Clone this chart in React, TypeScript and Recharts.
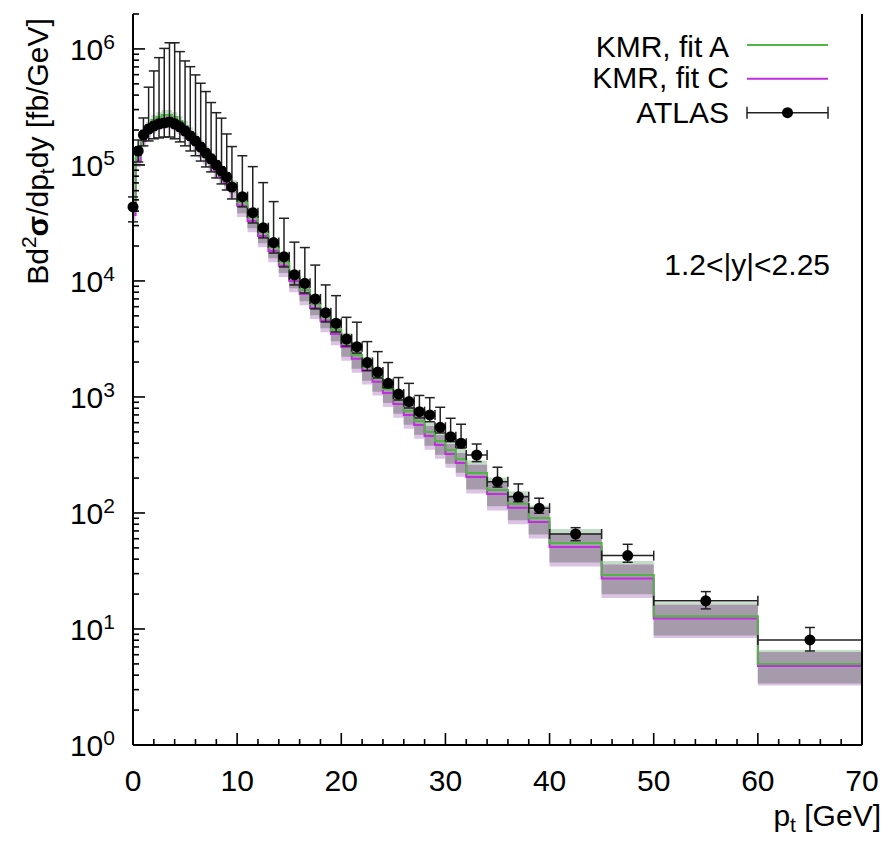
import React from "react";
import { Area, ComposedChart, ErrorBar, Line, Scatter, XAxis, YAxis } from "recharts";

const FONT = '"Liberation Sans", Arial, sans-serif';

// bin edges of the histogram steps (GeV)
const binEdges = [
  0, 0.25, 0.75, 1.25, 1.75, 2.25, 2.75, 3.25, 3.75, 4.25, 4.75, 5.25, 5.75, 6.25, 6.75, 7.25,
  7.75, 8.25, 8.75, 9.25, 10, 11, 12, 13, 14, 15, 16, 17, 18, 19, 20, 21, 22, 23, 24, 25, 26, 27,
  28, 29, 30, 31, 32, 34, 36, 38, 40, 45, 50, 60, 70,
];

// ATLAS points
const ptCenters = [
  0, 0.5, 1, 1.5, 2, 2.5, 3, 3.5, 4, 4.5, 5, 5.5, 6, 6.5, 7, 7.5, 8, 8.5, 9, 9.5, 10.5, 11.5,
  12.5, 13.5, 14.5, 15.5, 16.5, 17.5, 18.5, 19.5, 20.5, 21.5, 22.5, 23.5, 24.5, 25.5, 26.5, 27.5,
  28.5, 29.5, 30.5, 31.5, 33, 35, 37, 39, 42.5, 47.5, 55, 65,
];
const atlasValue = [
  4.35e4, 1.32e5, 1.82e5, 2.04e5, 2.17e5, 2.26e5, 2.3e5, 2.35e5, 2.26e5, 2.13e5, 1.96e5, 1.78e5,
  1.61e5, 1.43e5, 1.27e5, 1.13e5, 1.0e5, 8.88e4, 7.88e4, 6.46e4, 5.33e4, 3.88e4, 2.88e4, 2.14e4,
  1.62e4, 1.13e4, 9550, 7000, 5330, 4320, 3160, 2710, 1980, 1640, 1310, 1060, 912, 747, 700, 548,
  455, 399, 316, 186, 138, 110, 65.9, 42.9, 17.5, 8.04,
];
const atlasHigh = [
  5.3e4, 1.64e5, 2.54e5, 4.68e5, 6.46e5, 8.41e5, 1.01e6, 1.13e6, 1.13e6, 9.48e5, 7.88e5, 7.03e5,
  5.97e5, 5.06e5, 4.29e5, 3.45e5, 2.82e5, 2.53e5, 1.85e5, 1.44e5, 1.2e5, 9.67e4, 7.04e4, 4.83e4,
  3.47e4, 2.16e4, 1.94e4, 1.37e4, 9240, 7470, 4860, 4410, 3000, 2460, 1980, 1470, 1310, 1030,
  986, 815, 655, 582, 393, 248, 178, 134, 74.7, 53.7, 21.0, 10.3,
];
const atlasLow = [
  3.23e4, 1.06e5, 1.46e5, 1.61e5, 1.68e5, 1.71e5, 1.74e5, 1.74e5, 1.68e5, 1.58e5, 1.46e5, 1.32e5,
  1.2e5, 1.08e5, 9.61e4, 8.71e4, 7.73e4, 6.86e4, 6.08e4, 5.09e4, 4.35e4, 3.16e4, 2.35e4, 1.74e4,
  1.32e4, 9240, 7880, 5740, 4430, 3630, 2750, 2390, 1690, 1460, 1200, 942, 804, 659, 612, 489,
  412, 363, 277, 167, 125, 99.4, 57.7, 37.6, 14.9, 6.46,
];

// KMR, fit A
const fitA = [
  4.1e4, 1.2e5, 1.78e5, 2.17e5, 2.44e5, 2.59e5, 2.7e5, 2.7e5, 2.59e5, 2.39e5, 2.17e5, 1.92e5,
  1.71e5, 1.49e5, 1.32e5, 1.15e5, 1.0e5, 8.88e4, 7.73e4, 6.72e4, 4.8e4, 3.56e4, 2.64e4, 1.96e4,
  1.46e4, 1.08e4, 8360, 6340, 4900, 3780, 2920, 2300, 1820, 1460, 1170, 942, 757, 621, 499, 418,
  349, 292, 221, 158, 120, 90.6, 55.1, 29.2, 12.9, 4.99,
];
const fitAHigh = [
  4.43e4, 1.3e5, 1.92e5, 2.34e5, 2.68e5, 2.85e5, 2.97e5, 2.97e5, 2.85e5, 2.63e5, 2.39e5, 2.11e5,
  1.88e5, 1.64e5, 1.45e5, 1.27e5, 1.1e5, 9.77e4, 8.5e4, 7.39e4, 5.52e4, 4.09e4, 3.04e4, 2.25e4,
  1.68e4, 1.24e4, 9610, 7290, 5640, 4350, 3560, 2810, 2220, 1780, 1430, 1149, 924, 758, 609, 510,
  426, 356, 283, 202, 154, 116, 72.7, 38.5, 17.0, 6.59,
];
const fitALow = [
  3.61e4, 1.06e5, 1.57e5, 1.91e5, 2.07e5, 2.2e5, 2.3e5, 2.3e5, 2.2e5, 2.03e5, 1.84e5, 1.63e5,
  1.45e5, 1.27e5, 1.12e5, 9.78e4, 8.5e4, 7.55e4, 6.57e4, 5.71e4, 3.84e4, 2.85e4, 2.11e4, 1.57e4,
  1.17e4, 8640, 6690, 5070, 3920, 3020, 2220, 1750, 1380, 1110, 889, 716, 575, 472, 379, 318,
  265, 222, 159, 114, 86.4, 65.2, 37.5, 19.9, 8.77, 3.39,
];

// KMR, fit C
const fitC = [
  3.7e4, 1.09e5, 1.61e5, 1.96e5, 2.21e5, 2.34e5, 2.44e5, 2.44e5, 2.34e5, 2.16e5, 1.96e5, 1.74e5,
  1.55e5, 1.35e5, 1.19e5, 1.04e5, 9.05e4, 8.04e4, 7.0e4, 6.08e4, 4.44e4, 3.29e4, 2.44e4, 1.81e4,
  1.35e4, 9980, 7720, 5860, 4530, 3490, 2700, 2130, 1680, 1350, 1080, 870, 699, 574, 461, 386,
  322, 270, 204, 146, 111, 83.7, 50.9, 27.2, 12.3, 4.8,
];
const fitCHigh = [
  4.0e4, 1.18e5, 1.74e5, 2.12e5, 2.43e5, 2.57e5, 2.68e5, 2.68e5, 2.57e5, 2.38e5, 2.16e5, 1.91e5,
  1.71e5, 1.49e5, 1.31e5, 1.14e5, 9.96e4, 8.84e4, 7.7e4, 6.69e4, 5.11e4, 3.78e4, 2.81e4, 2.08e4,
  1.55e4, 1.15e4, 8880, 6740, 5210, 4010, 3290, 2600, 2050, 1650, 1320, 1061, 853, 700, 562, 471,
  393, 329, 261, 187, 142, 107, 67.2, 35.9, 16.2, 6.34,
];
const fitCLow = [
  3.26e4, 9.59e4, 1.42e5, 1.72e5, 1.88e5, 1.99e5, 2.07e5, 2.07e5, 1.99e5, 1.84e5, 1.67e5, 1.48e5,
  1.32e5, 1.15e5, 1.01e5, 8.84e4, 7.69e4, 6.83e4, 5.95e4, 5.17e4, 3.55e4, 2.63e4, 1.95e4, 1.45e4,
  1.08e4, 7980, 6180, 4690, 3620, 2790, 2050, 1620, 1280, 1030, 821, 661, 531, 436, 350, 293,
  245, 205, 147, 105, 79.9, 60.3, 34.6, 18.5, 8.36, 3.26,
];

const xTicks = [
  0, 2, 4, 6, 8, 10, 12, 14, 16, 18, 20, 22, 24, 26, 28, 30, 32, 34, 36, 38, 40, 42, 44, 46, 48,
  50, 52, 54, 56, 58, 60, 62, 64, 66, 68, 70,
];
const yDecades = [1, 10, 100, 1000, 10000, 100000, 1000000];
const yMinorSteps = [2, 3, 4, 5, 6, 7, 8, 9];
const yTicks = yDecades
  .flatMap((d) => [d, ...yMinorSteps.map((m) => m * d)])
  .filter((v) => v <= 2e6);

const stepRows = binEdges.map((edge, i) => {
  const k = Math.min(i, fitA.length - 1);
  return {
    x: edge,
    a: fitA[k],
    c: fitC[k],
    aBand: [fitALow[k], fitAHigh[k]],
    cBand: [fitCLow[k], fitCHigh[k]],
    // where the two bands overlap
    both: [Math.max(fitALow[k], fitCLow[k]), Math.min(fitAHigh[k], fitCHigh[k])],
  };
});

const atlasRows = ptCenters.map((x, i) => ({
  x,
  y: atlasValue[i],
  ex: [x - binEdges[i], binEdges[i + 1] - x],
  ey: [atlasValue[i] - atlasLow[i], atlasHigh[i] - atlasValue[i]],
}));

const GREEN = "#52b446";
const PURPLE = "#bf2fdc";
const TXT = 30;
const SUP = 21;

function BottomTick({ x, y, payload }: any) {
  const major = payload.value % 10 === 0;
  return (
    <g>
      <line x1={x} y1={y} x2={x} y2={y - (major ? 12 : 6)} stroke="#000" strokeWidth={1.6} />
      {major && (
        <text x={x} y={y + 46} textAnchor="middle" fontSize={TXT} fontFamily={FONT} fill="#000">
          {payload.value}
        </text>
      )}
    </g>
  );
}

function TopTick({ x, y, payload }: any) {
  const major = payload.value % 10 === 0;
  return <line x1={x} y1={y} x2={x} y2={y + (major ? 12 : 6)} stroke="#000" strokeWidth={1.6} />;
}

function LeftTick({ x, y, payload }: any) {
  const major = yDecades.includes(payload.value);
  const exp = Math.round(Math.log10(payload.value));
  return (
    <g>
      <line x1={x} y1={y} x2={x + (major ? 12 : 6)} y2={y} stroke="#000" strokeWidth={1.6} />
      {major && (
        <text x={x - 18} y={y + 11} textAnchor="end" fontSize={TXT} fontFamily={FONT} fill="#000">
          10
          <tspan dy={-11} fontSize={SUP}>
            {exp}
          </tspan>
        </text>
      )}
    </g>
  );
}

function RightTick({ x, y, payload }: any) {
  const major = yDecades.includes(payload.value);
  return <line x1={x} y1={y} x2={x - (major ? 12 : 6)} y2={y} stroke="#000" strokeWidth={1.6} />;
}

export default function App() {
  const frame = { stroke: "#000", strokeWidth: 2 };
  return (
    <div style={{ position: "relative", width: 872, height: 828, fontFamily: FONT }}>
      <ComposedChart
        width={872}
        height={828}
        data={stepRows}
        margin={{ top: 6, right: 0, bottom: 0, left: 0 }}
      >
        <XAxis
          dataKey="x"
          type="number"
          domain={[0, 70]}
          ticks={xTicks}
          interval={0}
          height={91}
          tickSize={0}
          tickMargin={0}
          tickLine={false}
          axisLine={frame}
          tick={<BottomTick />}
        />
        <XAxis
          xAxisId="top"
          orientation="top"
          type="number"
          domain={[0, 70]}
          ticks={xTicks}
          interval={0}
          height={0}
          tickSize={0}
          tickMargin={0}
          tickLine={false}
          axisLine={frame}
          tick={<TopTick />}
        />
        <YAxis
          type="number"
          scale="log"
          domain={[1, 2e6]}
          ticks={yTicks}
          interval={0}
          width={125}
          tickSize={0}
          tickMargin={0}
          tickLine={false}
          axisLine={frame}
          tick={<LeftTick />}
        />
        <YAxis
          yAxisId="right"
          orientation="right"
          type="number"
          scale="log"
          domain={[1, 2e6]}
          ticks={yTicks}
          interval={0}
          width={18}
          tickSize={0}
          tickMargin={0}
          tickLine={false}
          axisLine={frame}
          tick={<RightTick />}
        />
        <Area
          dataKey="aBand"
          type="stepAfter"
          fill="#c2dcc6"
          fillOpacity={1}
          stroke="none"
          isAnimationActive={false}
          activeDot={false}
        />
        <Area
          dataKey="cBand"
          type="stepAfter"
          fill="#dcc2e4"
          fillOpacity={1}
          stroke="none"
          isAnimationActive={false}
          activeDot={false}
        />
        <Area
          dataKey="both"
          type="stepAfter"
          fill="#a69bab"
          fillOpacity={1}
          stroke="none"
          isAnimationActive={false}
          activeDot={false}
        />
        <Line
          dataKey="c"
          type="stepAfter"
          stroke={PURPLE}
          strokeWidth={2}
          dot={false}
          activeDot={false}
          isAnimationActive={false}
        />
        <Line
          dataKey="a"
          type="stepAfter"
          stroke={GREEN}
          strokeWidth={2}
          dot={false}
          activeDot={false}
          isAnimationActive={false}
        />
        <Scatter
          data={atlasRows}
          dataKey="y"
          isAnimationActive={false}
          shape={(p: any) => <circle cx={p.cx} cy={p.cy} r={5.5} fill="#000" />}
        >
          <ErrorBar dataKey="ey" direction="y" width={5} stroke="#222" strokeWidth={1.5} />
          <ErrorBar dataKey="ex" direction="x" width={5} stroke="#222" strokeWidth={1.5} />
        </Scatter>
      </ComposedChart>

      <svg
        width={872}
        height={828}
        style={{ position: "absolute", left: 0, top: 0, pointerEvents: "none" }}
        fontFamily={FONT}
      >
        <text
          x={40}
          y={143.5}
          transform="rotate(-90, 40, 143.5)"
          textAnchor="middle"
          fontSize={TXT}
          fill="#000"
        >
          Bd
          <tspan dy={-12} fontSize={SUP}>
            2
          </tspan>
          <tspan dy={12} fontWeight="bold">
            σ
          </tspan>
          /dp
          <tspan dy={6} fontSize={SUP}>
            t
          </tspan>
          <tspan dy={-6}>dy [fb/GeV]</tspan>
        </text>
        <text x={873} y={818} textAnchor="end" fontSize={TXT} fill="#000">
          p
          <tspan dy={6} fontSize={SUP}>
            t
          </tspan>
          <tspan dy={-6}> [GeV]</tspan>
        </text>
        <text x={822} y={267} textAnchor="end" fontSize={TXT} fill="#000">
          1.2&lt;|y|&lt;2.25
        </text>

        <text x={721} y={48.7} textAnchor="end" fontSize={TXT} fill="#000">
          KMR, fit A
        </text>
        <line x1={739} y1={37} x2={820} y2={37} stroke={GREEN} strokeWidth={2} />
        <text x={721} y={80.3} textAnchor="end" fontSize={TXT} fill="#000">
          KMR, fit C
        </text>
        <line x1={739} y1={70.7} x2={820} y2={70.7} stroke={PURPLE} strokeWidth={2} />
        <text x={721} y={115.3} textAnchor="end" fontSize={TXT} fill="#000">
          ATLAS
        </text>
        <line x1={739} y1={104.7} x2={820} y2={104.7} stroke="#222" strokeWidth={1.5} />
        <line x1={739} y1={98.7} x2={739} y2={110.7} stroke="#222" strokeWidth={1.5} />
        <line x1={820} y1={98.7} x2={820} y2={110.7} stroke="#222" strokeWidth={1.5} />
        <circle cx={779.5} cy={104.7} r={5.5} fill="#000" />
      </svg>
    </div>
  );
}
